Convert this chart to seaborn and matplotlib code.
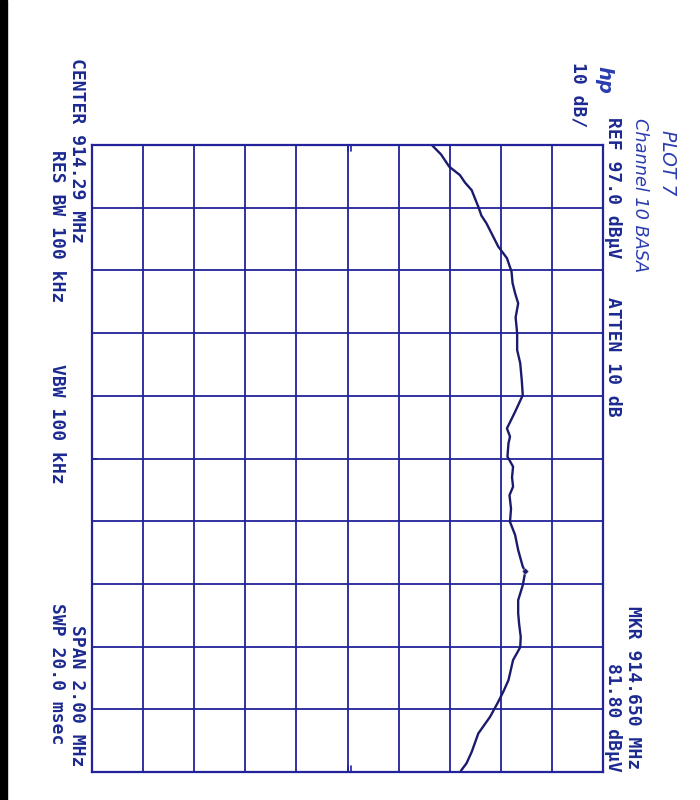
import matplotlib
matplotlib.use("Agg")
import matplotlib.pyplot as plt
import seaborn as sns
import pandas as pd
import numpy as np

sns.set_style("white")
plt.rcParams['font.family'] = ['DejaVu Sans Mono', 'DejaVu Sans']

# ---- data (amplitude in dBuV, frequency in MHz) ----
freq_mhz = [913.290, 913.320, 913.359, 913.386, 913.410, 913.434, 913.487, 913.515,
            913.540, 913.614, 913.651, 913.694, 913.730, 913.763, 913.795, 913.840,
            913.891, 913.944, 913.986, 914.040, 914.088, 914.141, 914.194, 914.220,
            914.242, 914.284, 914.316, 914.350, 914.380, 914.407, 914.450, 914.492,
            914.534, 914.582, 914.635, 914.650, 914.694, 914.742, 914.784, 914.820,
            914.859, 914.892, 914.933, 914.997, 915.030, 915.066, 915.114, 915.167,
            915.226, 915.262, 915.286]
level_dbuv = [63.5, 65.3, 66.9, 69.0, 70.0, 71.3, 72.6, 73.2,
              74.2, 76.5, 78.2, 79.1, 79.3, 79.8, 80.4, 79.9,
              80.2, 80.2, 80.8, 81.1, 81.3, 79.8, 78.2, 78.8,
              78.5, 78.3, 79.4, 79.2, 79.4, 78.7, 79.0, 78.8,
              79.8, 80.4, 81.3, 81.8, 81.3, 80.4, 80.4, 80.6,
              80.9, 80.8, 79.4, 78.5, 77.6, 76.5, 74.9, 72.6,
              71.3, 70.3, 69.2]

marker_freq = [914.650]
marker_level = [81.80]

center_mhz = 914.29
span_mhz = 2.00
ref_dbuv = 97.0
db_per_div = 10

header_left = ["CENTER 914.29 MHz", "RES BW 100 kHz", "VBW 100 kHz",
               "SPAN 2.00 MHz", "SWP 20.0 msec"]
header_right = ["REF 97.0 dB\u00b5V", "ATTEN 10 dB", "MKR 914.650 MHz",
                "81.80 dB\u00b5V", "10 dB/"]
notes = ["PLOT 7", "Channel 10 BASA", "hp"]

df = pd.DataFrame({"freq": freq_mhz, "level": level_dbuv})

W, H = 700, 800
fig = plt.figure(figsize=(7, 8), dpi=100)
fig.patch.set_facecolor("white")

L, R, T, B = 92, 603, 145, 772
ax = fig.add_axes([L / W, 1 - B / H, (R - L) / W, (B - T) / H])

grid_c = "#22229a"
trace_c = "#1b1b6e"
text_c = "#1c2a90"

ax.set_xlim(ref_dbuv - 10 * db_per_div, ref_dbuv)
ax.set_ylim(center_mhz + span_mhz / 2, center_mhz - span_mhz / 2)
ax.set_xticks(np.arange(ref_dbuv - 10 * db_per_div, ref_dbuv + 0.1, db_per_div))
ax.set_yticks(np.linspace(center_mhz - span_mhz / 2, center_mhz + span_mhz / 2, 11))
ax.grid(True, color=grid_c, lw=1.3)
ax.tick_params(length=0, labelleft=False, labelbottom=False)
for s in ax.spines.values():
    s.set_color(grid_c)
    s.set_linewidth(1.6)
ax.set_xlabel("")
ax.set_ylabel("")

sns.lineplot(data=df, x="level", y="freq", sort=False, estimator=None,
             orient="y", color=trace_c, lw=1.7, ax=ax)
sns.scatterplot(x=marker_level, y=marker_freq, marker="D", s=12,
                color=trace_c, ax=ax, zorder=5)

# small center / reference tick marks
for xv in (47, 47.6):
    ax.plot([xv, xv], [913.29, 913.31], color=grid_c, lw=1.2)
    ax.plot([xv, xv], [915.27, 915.29], color=grid_c, lw=1.2)
ax.plot([-3, -2], [914.29, 914.29], color=grid_c, lw=1.2)

# ---- text (rotated, reading top to bottom) ----
def rtext(x, y, s, size=13, **kw):
    fig.text(x / W, 1 - y / H, s, rotation=270, rotation_mode="anchor",
             ha="left", va="center", fontsize=size, color=text_c,
             weight="bold", **kw)

rtext(77, 58, header_left[0])
rtext(57, 150, header_left[1])
rtext(57, 364, header_left[2])
rtext(77, 625, header_left[3])
rtext(57, 603, header_left[4])

rtext(613, 117, header_right[0])
rtext(613, 297, header_right[1])
rtext(633, 606, header_right[2])
rtext(613, 663, header_right[3])
rtext(578, 62, header_right[4])

hand_c = "#2a3cb0"
fig.text(667 / W, 1 - 130 / H, notes[0], rotation=270, rotation_mode="anchor",
         ha="left", va="center", fontsize=13.5, color=hand_c,
         family=["DejaVu Sans"], style="italic", weight="light")
fig.text(640 / W, 1 - 118 / H, notes[1], rotation=270, rotation_mode="anchor",
         ha="left", va="center", fontsize=12.8, color=hand_c,
         family=["DejaVu Sans"], style="italic", weight="light")
fig.text(604 / W, 1 - 66 / H, notes[2], rotation=270, rotation_mode="anchor",
         ha="left", va="center", fontsize=14, color=hand_c,
         family=["DejaVu Sans"], style="italic", weight="bold")

# scanned paper edge
fig.patches.append(plt.Rectangle((0, 0), 7 / W, 1, transform=fig.transFigure,
                                 color="black", zorder=10))

fig.savefig("out.png", dpi=100, facecolor="white")
